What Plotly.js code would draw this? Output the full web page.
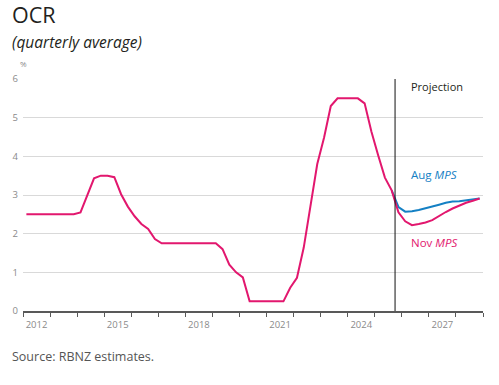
<!DOCTYPE html>
<html>
<head>
<meta charset="utf-8">
<script src="https://cdn.plot.ly/plotly-3.0.1.min.js"></script>
<style>
  html, body { margin: 0; padding: 0; background: #ffffff; }
  #chart { width: 499px; height: 385px; }
</style>
</head>
<body>
<div id="chart"></div>
<script>
// ---- Data (quarterly average OCR, %) ----
const firstYear = 2012;            // series start: 2012 Q1
const novMPS = [
  2.5, 2.5, 2.5, 2.5,             // 2012
  2.5, 2.5, 2.5, 2.5,             // 2013
  2.55, 2.99, 3.43, 3.5,          // 2014
  3.5, 3.46, 3.02, 2.7,           // 2015
  2.45, 2.25, 2.12, 1.86,         // 2016
  1.75, 1.75, 1.75, 1.75,         // 2017
  1.75, 1.75, 1.75, 1.75,         // 2018
  1.75, 1.6, 1.2, 1.0,            // 2019
  0.87, 0.25, 0.25, 0.25,         // 2020
  0.25, 0.25, 0.25, 0.6,          // 2021
  0.86, 1.64, 2.72, 3.8,          // 2022
  4.48, 5.3, 5.5, 5.5,            // 2023
  5.5, 5.5, 5.37, 4.64,           // 2024
  4.03, 3.45, 3.12, 2.55,         // 2025
  2.32, 2.22, 2.25, 2.29,         // 2026
  2.35, 2.46, 2.56, 2.65,         // 2027
  2.73, 2.8, 2.85, 2.91           // 2028
];
const augStartYear = 2025, augStartQuarter = 3;   // Aug MPS drawn from 2025 Q3
const augMPS = [
  3.12, 2.69,                     // 2025 Q3-Q4
  2.57, 2.58, 2.61, 2.65,         // 2026
  2.70, 2.75, 2.80, 2.83,         // 2027
  2.84, 2.86, 2.89, 2.91          // 2028
];
const projectionStart = 2025.75;  // boundary between actuals and projection
const yearTicks = [2012,2013,2014,2015,2016,2017,2018,2019,2020,2021,2022,2023,2024,2025,2026,2027,2028,2029];
const yearLabels = ['2012','2015','2018','2021','2024','2027'];
const yTicks = [0,1,2,3,4,5,6];

// quarter -> decimal year at quarter midpoint
const qx = (year, q) => year + (q - 0.5) / 4;
const novX = novMPS.map((_, i) => qx(firstYear + Math.floor(i / 4), (i % 4) + 1));
const augX = augMPS.map((_, i) => {
  const k = (augStartQuarter - 1) + i;
  return qx(augStartYear + Math.floor(k / 4), (k % 4) + 1);
});

const PINK = '#e2176e';
const BLUE = '#1480c4';
const TICKGREY = '#8a8a8a';
const DARK = '#231f20';
const FONT = 'Open Sans, Roboto, sans-serif';

const traces = [
  { x: augX, y: augMPS, type: 'scatter', mode: 'lines', name: 'Aug MPS',
    line: { color: BLUE, width: 2 }, hoverinfo: 'skip' },
  { x: novX, y: novMPS, type: 'scatter', mode: 'lines', name: 'Nov MPS',
    line: { color: PINK, width: 2 }, hoverinfo: 'skip' }
];

const layout = {
  width: 499, height: 385,
  margin: { l: 23, r: 16, t: 79, b: 74 },
  paper_bgcolor: '#ffffff', plot_bgcolor: '#ffffff',
  showlegend: false,
  font: { family: FONT, color: DARK },
  title: { text: '' },
  xaxis: {
    range: [yearTicks[0], yearTicks[yearTicks.length - 1]],
    tickmode: 'array',
    tickvals: yearLabels.map(s => Number(s) + 0.5),
    ticktext: yearLabels,
    ticks: '',
    ticklabelstandoff: 4,
    tickfont: { family: FONT, size: 9.5, color: TICKGREY },
    showgrid: false, zeroline: false,
    showline: true, linecolor: '#595959', linewidth: 1.5,
    minor: { tickmode: 'array', tickvals: yearTicks, ticks: 'outside', ticklen: 4,
             tickcolor: '#595959', tickwidth: 1, showgrid: false },
    fixedrange: true
  },
  yaxis: {
    range: [0, 6],
    tickmode: 'array', tickvals: yTicks, ticktext: yTicks.map(String),
    ticks: '',
    ticklabelstandoff: 4,
    tickfont: { family: FONT, size: 9.5, color: TICKGREY },
    showgrid: true, gridcolor: '#d9d9d9', gridwidth: 1,
    zeroline: false, showline: false,
    fixedrange: true
  },
  shapes: [
    { type: 'line', xref: 'x', yref: 'paper', x0: projectionStart, x1: projectionStart,
      y0: 0, y1: 1, line: { color: '#111111', width: 1 } }
  ],
  annotations: [
    { text: 'OCR', xref: 'paper', yref: 'paper',
      x: -13/460, y: (311 - 15)/232, xanchor: 'left', yanchor: 'middle',
      showarrow: false, font: { family: FONT, size: 21.5, color: DARK } },
    { text: '<i>(quarterly average)</i>', xref: 'paper', yref: 'paper',
      x: -13/460, y: (311 - 29.5)/232, xanchor: 'left', yanchor: 'top',
      showarrow: false, font: { family: FONT, size: 15.5, color: DARK } },
    { text: '%', xref: 'paper', yref: 'paper', x: 0, y: (311 - 63.5)/232,
      xanchor: 'center', yanchor: 'middle', showarrow: false,
      font: { family: FONT, size: 8, color: TICKGREY } },
    { text: 'Source: RBNZ estimates.', xref: 'paper', yref: 'paper',
      x: -13/460, y: (311 - 356)/232, xanchor: 'left', yanchor: 'middle',
      showarrow: false, font: { family: FONT, size: 12.5, color: '#555555' } },
    { text: 'Projection', xref: 'x', yref: 'y', x: 2026.26, y: 5.8,
      xanchor: 'left', yanchor: 'middle', showarrow: false,
      font: { family: FONT, size: 11, color: DARK } },
    { text: 'Aug <i>MPS</i>', xref: 'x', yref: 'y', x: 2026.26, y: 3.52,
      xanchor: 'left', yanchor: 'middle', showarrow: false,
      font: { family: FONT, size: 11.5, color: BLUE } },
    { text: 'Nov <i>MPS</i>', xref: 'x', yref: 'y', x: 2026.26, y: 1.77,
      xanchor: 'left', yanchor: 'middle', showarrow: false,
      font: { family: FONT, size: 11.5, color: PINK } }
  ]
};

Plotly.newPlot('chart', traces, layout, { displayModeBar: false, staticPlot: true });
</script>
</body>
</html>
